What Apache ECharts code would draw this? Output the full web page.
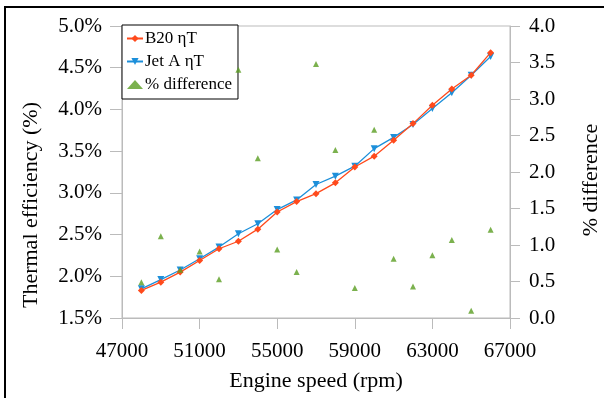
<!DOCTYPE html>
<html>
<head>
<meta charset="utf-8">
<script src="https://cdn.jsdelivr.net/npm/echarts@6/dist/echarts.min.js"></script>
<style>
  html, body { margin: 0; padding: 0; background: #fff; }
  #container { width: 604px; height: 398px; }
</style>
</head>
<body>
<div id="container"></div>
<script>
const speeds = [48000, 49000, 50000, 51000, 52000, 53000, 54000, 55000, 56000, 57000,
  58000, 59000, 60000, 61000, 62000, 63000, 64000, 65000, 66000]

const b20 = [1.83, 1.93, 2.05, 2.19, 2.33, 2.42, 2.565, 2.77, 2.895, 2.99,
  3.12, 3.31, 3.44, 3.63, 3.83, 4.05, 4.245, 4.41, 4.68]

const jetA = [1.85, 1.96, 2.075, 2.21, 2.35, 2.51, 2.63, 2.80, 2.915, 3.10,
  3.20, 3.32, 3.53, 3.665, 3.82, 4.01, 4.20, 4.41, 4.635]

const diff = [0.49, 1.12, 0.66, 0.91, 0.53, 3.40, 2.19, 0.94, 0.63, 3.48,
  2.30, 0.41, 2.58, 0.81, 0.43, 0.86, 1.07, 0.10, 1.21]

const xTicks = [47000, 51000, 55000, 59000, 63000, 67000]

const seriesNames = ['B20 ηT', 'Jet A ηT', '% difference']
const colors = ['#FF4A1C', '#1C8FDA', '#5A9E22']

const serifFamily = 'Liberation Serif'
const axisGray = '#BBBBBB'

const chart = echarts.init(document.getElementById('container'))

const pair = (xs, ys) => xs.map((x, i) => [x, ys[i]])

const labelText = size => ({ fontFamily: serifFamily, fontSize: size, color: '#000' })

chart.setOption({
  backgroundColor: '#fff',
  animation: false,
  textStyle: { fontFamily: serifFamily },
  graphic: [{
    type: 'rect',
    shape: { x: 5, y: 7, width: 700, height: 500 },
    style: { fill: 'none', stroke: '#000', lineWidth: 2 },
    silent: true
  }],
  grid: {
    left: 122, right: 94, top: 26, bottom: 80,
    containLabel: false,
    outerBoundsMode: 'none',
    show: true, borderColor: axisGray, borderWidth: 1
  },
  legend: {
    orient: 'vertical',
    left: 122, top: 25,
    data: seriesNames,
    backgroundColor: '#fff',
    borderColor: '#000', borderWidth: 1,
    padding: [5, 6, 6, 4],
    itemGap: 6,
    itemWidth: 16, itemHeight: 9,
    z: 4,
    textStyle: Object.assign(labelText(17), { padding: [0, 0, 0, -3] })
  },
  xAxis: {
    type: 'value',
    min: 47000, max: 67000,
    name: 'Engine speed (rpm)',
    nameLocation: 'middle',
    nameGap: 52,
    nameTextStyle: labelText(22),
    axisLine: { lineStyle: { color: axisGray, width: 1 } },
    axisTick: { length: 11, lineStyle: { color: axisGray }, customValues: xTicks },
    axisLabel: Object.assign(labelText(21), { margin: 23,
      customValues: xTicks, formatter: v => String(v) }),
    splitLine: { show: false }
  },
  yAxis: [{
    type: 'value',
    min: 1.5, max: 5.0, interval: 0.5,
    name: 'Thermal efficiency (%)',
    nameLocation: 'middle',
    nameRotate: 90,
    nameGap: 80,
    nameTextStyle: Object.assign(labelText(22), { padding: [0, 66, 0, 0] }),
    axisLine: { show: true, lineStyle: { color: axisGray, width: 1 } },
    axisTick: { show: true, length: 12, lineStyle: { color: axisGray } },
    axisLabel: Object.assign(labelText(21), { margin: 20,
      formatter: v => v.toFixed(1) + '%' }),
    splitLine: { show: false }
  }, {
    type: 'value',
    position: 'right',
    min: 0, max: 4, interval: 0.5,
    name: '% difference',
    nameLocation: 'middle',
    nameRotate: 90,
    nameGap: 70,
    nameTextStyle: Object.assign(labelText(22), { padding: [0, 16, 0, 0] }),
    axisLine: { show: true, lineStyle: { color: axisGray, width: 1 } },
    axisTick: { show: true, length: 10, lineStyle: { color: axisGray } },
    axisLabel: Object.assign(labelText(21), { margin: 19,
      formatter: v => v.toFixed(1) }),
    splitLine: { show: false }
  }],
  series: [{
    name: seriesNames[0],
    type: 'line',
    yAxisIndex: 0,
    data: pair(speeds, b20),
    symbol: 'diamond', symbolSize: 7,
    lineStyle: { color: colors[0], width: 1.3 },
    itemStyle: { color: colors[0] },
    z: 3
  }, {
    name: seriesNames[1],
    type: 'line',
    yAxisIndex: 0,
    data: pair(speeds, jetA),
    symbol: 'triangle', symbolRotate: 180, symbolSize: 7,
    lineStyle: { color: colors[1], width: 1.3 },
    itemStyle: { color: colors[1] },
    z: 2
  }, {
    name: seriesNames[2],
    type: 'scatter',
    yAxisIndex: 1,
    data: pair(speeds, diff),
    symbol: 'triangle', symbolSize: 6,
    itemStyle: { color: colors[2] },
    z: 5
  }]
})
</script>
</body>
</html>
